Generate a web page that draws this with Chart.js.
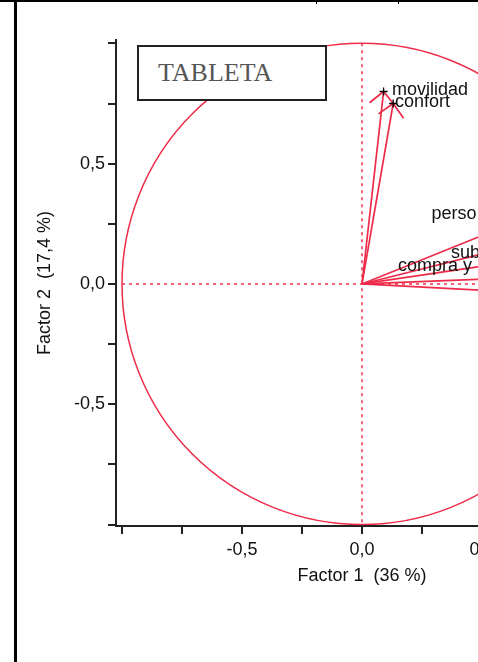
<!DOCTYPE html>
<html>
<head>
<meta charset="utf-8">
<script src="https://cdn.jsdelivr.net/npm/chart.js@4"></script>
<style>
html, body { margin: 0; padding: 0; background: #fff; overflow: hidden; }
#wrap { position: relative; width: 478px; height: 662px; overflow: hidden; }
canvas { position: absolute; left: 0; top: 0; }
#topline { position: absolute; left: 0; top: 0; width: 478px; height: 2px; background: #000; }
#leftline { position: absolute; left: 14px; top: 0; width: 3px; height: 662px; background: #000; }
.notch { position: absolute; top: 0; width: 1px; height: 4px; background: #000; }
#tag {
    position: absolute; left: 137px; top: 45px; width: 190px; height: 56px;
    box-sizing: border-box; border: 2px solid #222; background: #fff;
    font: 26px 'Liberation Serif', 'Times New Roman', serif; color: #555;
    padding-left: 19px; line-height: 52px;
}
</style>
</head>
<body>
<div id="wrap">
    <canvas id="chart" width="640" height="662"></canvas>
    <div id="topline"></div>
    <div id="leftline"></div>
    <div class="notch" style="left:316px"></div>
    <div class="notch" style="left:398px"></div>
    <div id="tag">TABLETA</div>
</div>
<script>
// variables of the correlation circle (right hand labels are cut off in the picture)
const variables = ['movilidad', 'confort', 'personalización', 'subjetividad', 'compra y uso', '', ''];
const factor1 = [0.09, 0.13, 0.72, 0.80, 0.85, 0.88, 0.86];
const factor2 = [0.80, 0.75, 0.29, 0.20, 0.125, 0.035, -0.045];

// where each label sits (start of text, baseline), in factor units
const labelF1 = [0.125, 0.1375, 0.29, 0.371, 0.15, 0, 0];
const labelF2 = [0.786, 0.735, 0.270, 0.108, 0.054, 0, 0];

const tickValues = [-1, -0.75, -0.5, -0.25, 0, 0.25, 0.5, 0.75, 1];
const labelledTicks = [-0.5, 0, 0.5];

const red = 'rgb(238,44,74)';
const font = { family: "'Liberation Sans', Arial, sans-serif", size: 18 };

const fmt = v => labelledTicks.includes(v) ? v.toFixed(1).replace('.', ',') : '';

const drawHead = (ctx, x0, y0, x1, y1) => {
    const ang = Math.atan2(y0 - y1, x0 - x1);
    const len = 18, spread = Math.PI / 4;
    ctx.beginPath();
    ctx.moveTo(x1 + len * Math.cos(ang - spread), y1 + len * Math.sin(ang - spread));
    ctx.lineTo(x1, y1);
    ctx.lineTo(x1 + len * Math.cos(ang + spread), y1 + len * Math.sin(ang + spread));
    ctx.stroke();
};

const circlePlugin = {
    id: 'circlePlugin',
    beforeDatasetsDraw(chart) {
        const { ctx, scales: { x, y } } = chart;
        const cx = x.getPixelForValue(0), cy = y.getPixelForValue(0);
        const rx = x.getPixelForValue(1) - cx, ry = cy - y.getPixelForValue(1);
        ctx.save();
        ctx.strokeStyle = red;
        ctx.lineWidth = 1.5;
        ctx.beginPath();
        ctx.ellipse(cx, cy, rx, ry, 0, 0, Math.PI * 2);
        ctx.stroke();

        ctx.setLineDash([3, 4]);
        ctx.beginPath();
        ctx.moveTo(x.getPixelForValue(-1), cy);
        ctx.lineTo(x.getPixelForValue(1), cy);
        ctx.moveTo(cx, y.getPixelForValue(1));
        ctx.lineTo(cx, y.getPixelForValue(-1));
        ctx.stroke();

        ctx.setLineDash([]);
        ctx.lineWidth = 1.7;
        factor1.forEach((f1, i) => {
            drawHead(ctx, cx, cy, x.getPixelForValue(f1), y.getPixelForValue(factor2[i]));
        });
        ctx.restore();
    },
    afterDatasetsDraw(chart) {
        const { ctx, scales: { x, y } } = chart;
        ctx.save();
        ctx.fillStyle = '#111';
        ctx.font = `${font.size}px ${font.family}`;
        ctx.textAlign = 'left';
        ctx.textBaseline = 'alphabetic';
        variables.forEach((name, i) => {
            if (!name) return;
            ctx.fillText(name, x.getPixelForValue(labelF1[i]), y.getPixelForValue(labelF2[i]));
        });
        ctx.restore();
    }
};

const datasets = variables.map((name, i) => ({
    label: name,
    data: [{ x: 0, y: 0 }, { x: factor1[i], y: factor2[i] }],
    showLine: true,
    borderColor: red,
    borderWidth: 1.7,
    pointRadius: [0, 4],
    pointHoverRadius: 0,
    pointStyle: 'cross',
    pointBorderColor: '#000',
    pointBorderWidth: 1.3
}));

const axisCommon = {
    type: 'linear',
    afterBuildTicks: s => { s.ticks = tickValues.map(v => ({ value: v })); },
    grid: { drawOnChartArea: false, drawTicks: true, tickLength: 8, color: '#222', lineWidth: 2 },
    border: { display: true, color: '#222', width: 2 },
};

new Chart(document.getElementById('chart'), {
    type: 'scatter',
    data: { datasets: datasets },
    options: {
        responsive: false,
        animation: false,
        devicePixelRatio: 1,
        events: [],
        layout: { padding: { top: 40, right: 32, left: 0, bottom: 0 } },
        plugins: { legend: { display: false }, tooltip: { enabled: false } },
        scales: {
            x: {
                ...axisCommon,
                min: -1.025,
                max: 1.025,
                afterFit: s => { s.height = 136; },
                ticks: { padding: 5, font: font, color: '#111', callback: fmt, autoSkip: false, maxRotation: 0 },
                title: { display: true, text: 'Factor 1  (36 %)', font: font, color: '#111', padding: { top: 0, bottom: 75 } }
            },
            y: {
                ...axisCommon,
                min: -1.006,
                max: 1.014,
                afterFit: s => { s.width = 116; },
                ticks: { padding: 3, font: font, color: '#111', callback: fmt, autoSkip: false },
                title: { display: true, text: 'Factor 2  (17,4 %)', font: font, color: '#111', padding: { top: 34, bottom: 0 } }
            }
        }
    },
    plugins: [circlePlugin]
});
</script>
</body>
</html>
